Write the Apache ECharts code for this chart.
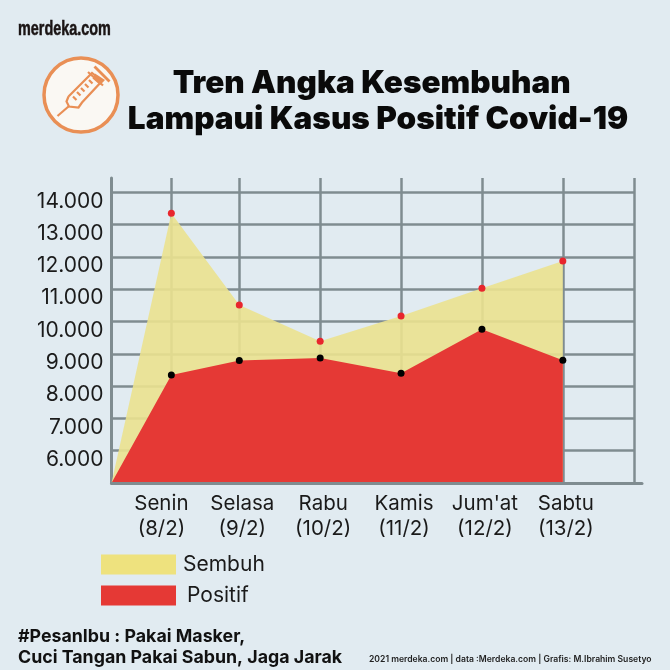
<!DOCTYPE html>
<html>
<head>
<meta charset="utf-8">
<style>
  html, body { margin: 0; padding: 0; background: #e1ebf1; }
  #chart { width: 670px; height: 670px; }
</style>
<script src="https://cdn.jsdelivr.net/npm/echarts@6/dist/echarts.min.js"></script>
</head>
<body>
<div id="chart"></div>
<script>
const days = ['Senin', 'Selasa', 'Rabu', 'Kamis', "Jum'at", 'Sabtu']
const dates = ['(8/2)', '(9/2)', '(10/2)', '(11/2)', '(12/2)', '(13/2)']
// x is the day of february (the origin and senin are not evenly spaced)
const dayValues = [8, 9, 10, 11, 12, 13]
const pointX = [7.42, 8.16, 9, 10, 11, 12, 13]
const gridX = [8.16, 9, 10, 11, 12, 13, 13.88]
const sembuh = [5000, 13350, 10510, 9390, 10170, 11030, 11870]
const positif = [5000, 8340, 8790, 8870, 8400, 9760, 8800]
const yTicks = [5000, 6000, 7000, 8000, 9000, 10000, 11000, 12000, 13000, 14000]
const yLabels = [6000, 7000, 8000, 9000, 10000, 11000, 12000, 13000, 14000]

const textFont = 'Inter'
const gridColor = '#7f8c90'
const iconColor = '#e98f55'
const myChart = echarts.init(document.getElementById('chart'))

function toPoints (values, dotColor) {
  return values.map((v, i) => ({
    value: [pointX[i], v],
    symbol: i === 0 ? 'none' : 'circle',
    itemStyle: { color: dotColor }
  }))
}

function iconLine (points, width) {
  return {
    type: 'polyline',
    shape: { points: points },
    style: { fill: null, stroke: iconColor, lineWidth: width || 2.2 }
  }
}

const option = {
  backgroundColor: '#e1ebf1',
  animation: false,
  title: {
    text: 'Tren Angka Kesembuhan  \nLampaui Kasus Positif Covid-19',
    left: 373,
    top: 61,
    textAlign: 'center',
    textStyle: {
      fontFamily: textFont,
      fontWeight: 900,
      fontSize: 31.5,
      lineHeight: 36,
      color: '#0a0a0a'
    }
  },
  legend: {
    left: 101,
    top: 554,
    padding: 0,
    orient: 'vertical',
    itemWidth: 75,
    itemHeight: 20,
    itemGap: 10,
    icon: 'rect',
    data: [
      { name: 'Sembuh', itemStyle: { color: '#eee27e' } },
      { name: 'Positif', textStyle: { padding: [0, 0, 0, 6] } }
    ],
    textStyle: { fontFamily: textFont, fontSize: 21, color: '#1a1a1a', padding: [0, 0, 0, 2] }
  },
  grid: [
    { left: 111.5, right: 36, top: 178, bottom: 187 },
    { left: 111.5, right: 28, top: 178, bottom: 187 }
  ],
  xAxis: [
    {
      type: 'value',
      min: pointX[0],
      max: gridX[gridX.length - 1],
      axisLine: { show: false },
      axisTick: { show: false, customValues: gridX },
      splitLine: { show: true, lineStyle: { color: gridColor, width: 2.5 } },
      axisLabel: {
        customValues: dayValues,
        margin: 8,
        padding: [0, 0, 0, 6],
        fontFamily: textFont,
        fontSize: 20.5,
        lineHeight: 25,
        color: '#1a1a1a',
        formatter: (v) => {
          const i = dayValues.indexOf(v)
          return days[i] + '\n' + dates[i]
        }
      }
    },
    {
      // base line, sits over the red area and runs past the last grid line
      gridIndex: 1,
      type: 'value',
      min: 0,
      max: 1,
      z: 10,
      axisLine: { show: true, onZero: false, lineStyle: { color: gridColor, width: 3 } },
      axisTick: { show: false },
      splitLine: { show: false },
      axisLabel: { show: false }
    }
  ],
  yAxis: [
    {
      type: 'value',
      min: 5000,
      max: 14440,
      axisLine: { show: true, lineStyle: { color: gridColor, width: 3 } },
      axisTick: { show: false, customValues: yTicks },
      splitLine: { show: true, lineStyle: { color: gridColor, width: 2.5 } },
      axisLabel: {
        customValues: yLabels,
        margin: 8,
        verticalAlign: 'top',
        lineHeight: 18,
        fontFamily: textFont,
        fontSize: 21,
        color: '#1a1a1a',
        formatter: (v) => String(v).replace(/(\d{3})$/, '.$1')
      }
    },
    { gridIndex: 1, type: 'value', show: false, min: 0, max: 1, splitLine: { show: false } }
  ],
  series: [
    {
      name: 'Sembuh',
      type: 'line',
      data: toPoints(sembuh, '#e8262d'),
      symbolSize: 7,
      lineStyle: { width: 0 },
      itemStyle: { color: '#ebe28f' },
      areaStyle: { color: '#ebe28f', opacity: 0.9 },
      z: 2
    },
    {
      name: 'Positif',
      type: 'line',
      data: toPoints(positif, '#000000'),
      symbolSize: 7,
      lineStyle: { width: 0 },
      itemStyle: { color: '#e53935' },
      areaStyle: { color: '#e53935', opacity: 1 },
      z: 3
    }
  ],
  graphic: [
    { type: 'text', x: 18, y: 19, scaleX: 0.72, style: { text: 'merdeka.com', fontFamily: 'Liberation Sans', fontWeight: 'bold', fontSize: 20, fill: '#1a1414', stroke: '#1a1414', lineWidth: 0.5 } },
    // syringe icon
    { type: 'circle', shape: { cx: 81, cy: 95, r: 37 }, style: { fill: '#faf8f3', stroke: iconColor, lineWidth: 3.5 } },
    iconLine([[57.5, 116], [68.5, 106.5]]),
    iconLine([[88, 72], [103, 85.5]]),
    iconLine([[94.5, 66.5], [109.5, 81.5]], 2.8),
    iconLine([[68.5, 96.5], [66.5, 101.5], [69, 106.5], [78.5, 107.5], [82, 102.5], [102, 81], [92, 73], [68.5, 96.5]]),
    iconLine([[73, 96.5], [76.5, 100]]),
    iconLine([[77, 92], [80.5, 95.5]]),
    iconLine([[81, 88], [84.5, 91.5]]),
    iconLine([[85, 84], [88.5, 87.5]]),
    iconLine([[89, 80], [92.5, 83.5]]),
    { type: 'polygon', shape: { points: [[95, 73.5], [105, 80], [100, 85], [92.5, 78.5]] }, style: { fill: iconColor } },
    { type: 'text', left: 18, top: 626, style: { text: '#PesanIbu : Pakai Masker,\nCuci Tangan Pakai Sabun, Jaga Jarak', fontFamily: textFont, fontWeight: 700, fontSize: 17.8, lineHeight: 21, fill: '#111' } },
    { type: 'text', left: 369, top: 655, style: { text: '2021 merdeka.com | data :Merdeka.com | Grafis: M.Ibrahim Susetyo', fontFamily: textFont, fontWeight: 600, fontSize: 8.6, fill: '#222' } }
  ]
}

myChart.setOption(option)
</script>
</body>
</html>
